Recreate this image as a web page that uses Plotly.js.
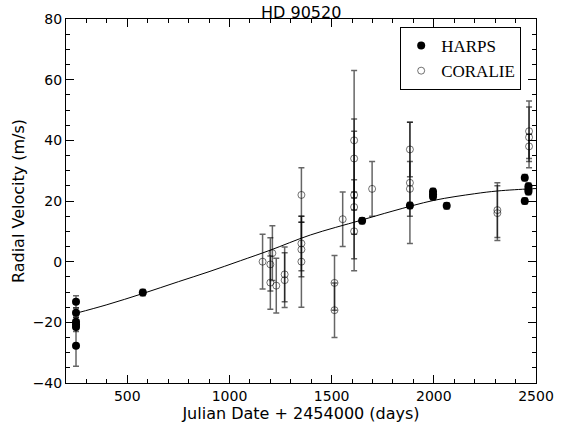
<!DOCTYPE html>
<html>
<head>
<meta charset="utf-8">
<script src="https://cdn.plot.ly/plotly-3.0.1.min.js"></script>
<style>html,body{margin:0;padding:0;background:#fff;}#chart{width:563px;height:428px;}</style>
</head>
<body>
<div id="chart"></div>
<script>
// HARPS measurements
const harpsJD  = [249, 249, 249, 249, 249, 249, 576, 1649, 1883, 1996, 1996, 1996, 2063, 2445, 2445, 2463, 2463, 2463];
const harpsRV  = [-13.2, -16.8, -19.8, -20.7, -21.5, -27.7, -10.2, 13.5, 18.5, 23.1, 22.2, 21.4, 18.4, 27.7, 20.0, 24.9, 23.9, 23.1];
const harpsErr = [2.0, 1.5, 1.5, 1.5, 1.5, 6.8, 1.0, 1.0, 1.0, 1.0, 1.0, 1.0, 1.0, 1.0, 1.0, 1.0, 1.0, 1.0];

// CORALIE measurements
const corJD  = [1162, 1200, 1200, 1210, 1229, 1270, 1270, 1352, 1352, 1352, 1352, 1514, 1514, 1554, 1610, 1610, 1610, 1610, 1610, 1698, 1883, 1883, 1883, 2311, 2311, 2466, 2466, 2466];
const corRV  = [0, -0.9, -6.9, 2.8, -7.9, -4.2, -6.1, 22, 6, 4, 0, -7, -16, 14, 40, 34, 22, 18, 10, 24, 37, 26, 24, 16, 17, 43, 41, 38];
const corErr = [9, 8.8, 8.8, 9, 9, 9, 9, 9, 9, 9, 15, 9, 9, 9, 23, 13, 21, 9, 13, 9, 9, 20, 9, 9, 9, 10, 10, 4];

// Fitted orbit curve
const fitJD = [249, 400, 576, 750, 900, 1053, 1200, 1396, 1641, 1800, 2000, 2200, 2311, 2466, 2500];
const fitRV = [-17, -14.2, -10.5, -6.6, -3.3, 0.3, 3.8, 8.8, 13.6, 16.7, 20.2, 22.4, 23.3, 24.0, 24.1];

const xTicks = [500, 1000, 1500, 2000, 2500];
const yTicks = [-40, -20, 0, 20, 40, 60, 80];

const traces = [
  {
    x: fitJD, y: fitRV, type: 'scatter', mode: 'lines',
    line: {color: '#000', width: 1, shape: 'spline'},
    showlegend: false, hoverinfo: 'skip'
  },
  {
    x: harpsJD, y: harpsRV, type: 'scatter', mode: 'markers', name: 'HARPS',
    marker: {color: '#000', size: 8, line: {width: 0}},
    error_y: {type: 'data', array: harpsErr, visible: true, color: 'rgba(0,0,0,0.6)', thickness: 1.5, width: 3}
  },
  {
    x: corJD, y: corRV, type: 'scatter', mode: 'markers', name: 'CORALIE',
    marker: {symbol: 'circle-open', color: 'rgba(0,0,0,0.55)', size: 7, line: {width: 1}},
    error_y: {type: 'data', array: corErr, visible: true, color: 'rgba(0,0,0,0.6)', thickness: 1.5, width: 3}
  }
];

const axisFont = {family: 'DejaVu Sans, sans-serif', size: 14, color: '#000'};

const layout = {
  width: 563, height: 428,
  margin: {l: 66, r: 27, t: 19, b: 45},
  paper_bgcolor: '#fff', plot_bgcolor: '#fff',
  title: {text: 'HD 90520', font: {family: 'DejaVu Sans, sans-serif', size: 16, color: '#000'}, x: 0.535, xanchor: 'center', y: 0.985, yanchor: 'top'},
  xaxis: {
    range: [200, 2500], tickvals: xTicks, ticktext: xTicks.map(String),
    ticks: 'inside', ticklen: 8, tickwidth: 1, tickcolor: '#000',
    minor: {dtick: 100, tick0: 0, ticks: 'inside', ticklen: 4, tickcolor: '#000', showgrid: false},
    showline: true, linecolor: '#000', linewidth: 1, mirror: 'allticks',
    showgrid: false, zeroline: false, tickfont: axisFont,
    title: {text: 'Julian Date + 2454000 (days)', font: {family: 'DejaVu Sans, sans-serif', size: 16, color: '#000'}, standoff: 5}
  },
  yaxis: {
    range: [-40, 80], tickvals: yTicks, ticktext: yTicks.map(v => v < 0 ? '\u2212' + Math.abs(v) : String(v)),
    ticks: 'inside', ticklen: 8, tickwidth: 1, tickcolor: '#000',
    minor: {dtick: 5, tick0: 0, ticks: 'inside', ticklen: 4, tickcolor: '#000', showgrid: false},
    showline: true, linecolor: '#000', linewidth: 1, mirror: 'allticks',
    showgrid: false, zeroline: false, tickfont: axisFont,
    title: {text: 'Radial Velocity (m/s)', font: {family: 'DejaVu Sans, sans-serif', size: 16, color: '#000'}, standoff: 4}
  },
  legend: {
    x: 0.711, y: 0.978, xanchor: 'left', yanchor: 'top',
    bgcolor: '#fff', bordercolor: '#000', borderwidth: 1,
    font: {family: 'Liberation Serif, serif', size: 17, color: '#000'},
    tracegroupgap: 0, itemwidth: 30
  },
  showlegend: true
};

Plotly.newPlot('chart', traces, layout, {displayModeBar: false, staticPlot: true});
</script>
</body>
</html>
